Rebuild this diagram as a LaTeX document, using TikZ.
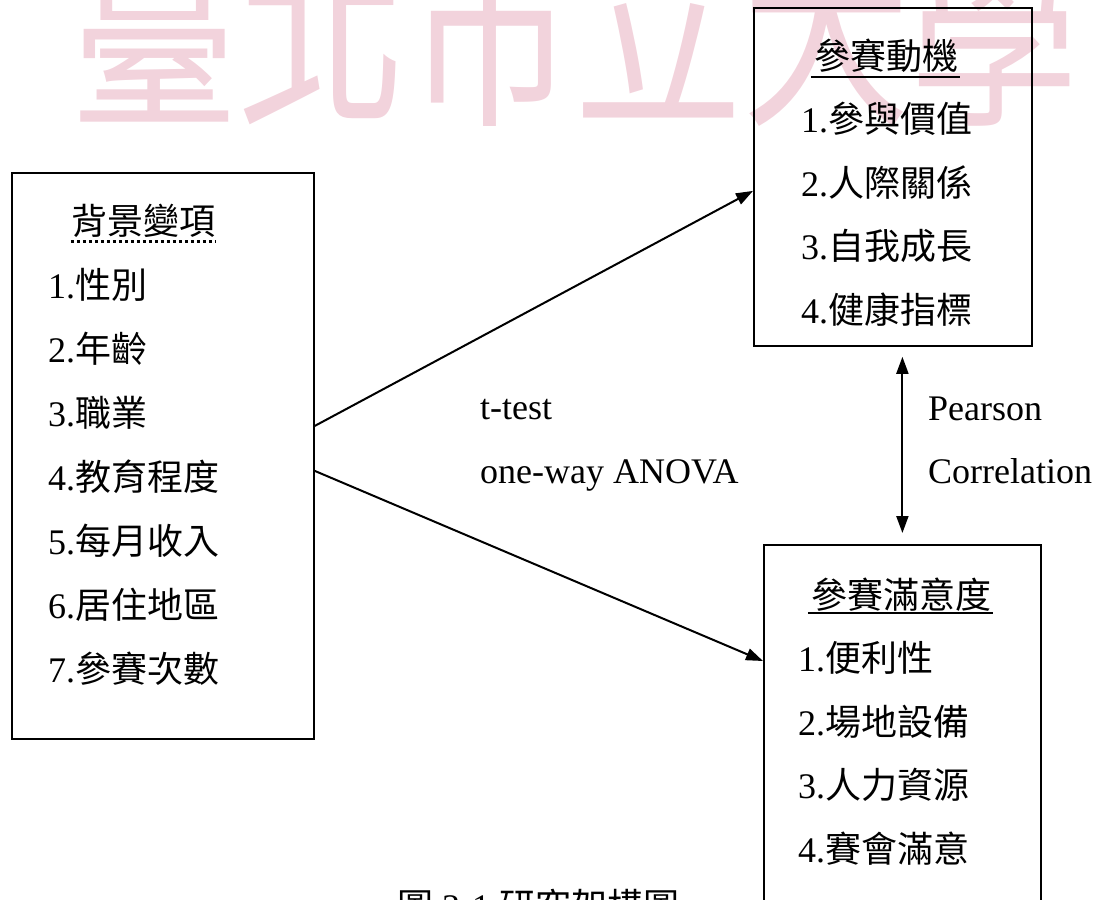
\documentclass[tikz,border=0pt]{standalone}
\usepackage{fontspec}
\setmainfont{Liberation Serif}
\newfontfamily\cjk{Noto Sans CJK TC}
\newcommand*{\zh}[1]{{\cjk #1}}
\usetikzlibrary{arrows.meta}
\definecolor{wmark}{RGB}{238,196,208}
\tikzstyle{box} = [draw, rectangle, line width=1.8pt, inner sep=0pt, anchor=north west]
\tikzstyle{item} = [font=\fontsize{36}{40}\selectfont, inner sep=0pt, anchor=base west]
\tikzstyle{title} = [item, anchor=base]
\tikzstyle{stat} = [item]
\tikzstyle{uline} = [line width=1.8pt]
\tikzstyle{dots} = [line width=3pt, dash pattern=on 3pt off 3pt]
\tikzstyle{path} = [-{Triangle[length=17pt, width=12pt]}, line width=2pt]
\tikzstyle{both} = [path, {Triangle[length=17pt, width=12pt]}-{Triangle[length=17pt, width=12pt]}]

\begin{document}
\begin{tikzpicture}[x=1pt, y=-1pt]
    \path [use as bounding box, clip] (0,0) rectangle (1107,899);

    % Watermark.
    \node (watermark) [anchor=base west, inner sep=0pt, text=wmark, opacity=0.75,
        xscale=0.82, transform shape,
        font=\cjk\fontsize{205}{205}\selectfont] at (70,110) {臺北市立大學};

    % Boxes.
    \node (bg) [box, minimum width=302pt, minimum height=566pt] at (11,172) {};
    \node (motive) [box, minimum width=278pt, minimum height=338pt] at (753,7) {};
    \node (satisfy) [box, minimum width=277pt, minimum height=420pt] at (763,544) {};

    \node (bg title) [title] at (143,234) {\zh{背景變項}};
    \node (motive title) [title] at (886,69) {\zh{參賽動機}};
    \node (satisfy title) [title] at (901,608) {\zh{參賽滿意度}};

    \draw [dots] ([yshift=-7pt]bg title.base west) -- ([yshift=-7pt]bg title.base east);
    \draw [uline] ([xshift=-3pt, yshift=-8pt]motive title.base west) -- ([xshift=2pt, yshift=-8pt]motive title.base east);
    \draw [uline] ([xshift=-3pt, yshift=-5pt]satisfy title.base west) -- ([xshift=2pt, yshift=-5pt]satisfy title.base east);

    \foreach \t [count=\i] in {性別, 年齡, 職業, 教育程度, 每月收入, 居住地區, 參賽次數} {%
        \node (bg item \i) [item] at (48, {234+64*\i}) {\i.\zh{\t}};
    }
    \foreach \t [count=\i] in {參與價值, 人際關係, 自我成長, 健康指標} {%
        \node (motive item \i) [item] at (801, {69+63.5*\i}) {\i.\zh{\t}};
    }
    \foreach \t [count=\i] in {便利性, 場地設備, 人力資源, 賽會滿意} {%
        \node (satisfy item \i) [item] at (798, {608+63.5*\i}) {\i.\zh{\t}};
    }

    \node (test 1) [stat] at (480,419) {t-test};
    \node (test 2) [stat] at (480,483) {one-way ANOVA};
    \node (corr 1) [stat] at (928,420) {Pearson};
    \node (corr 2) [stat] at (928,483) {Correlation};

    % Arrows.
    \draw [path] ([yshift=30pt]bg.east) -- ([yshift=-14pt]motive.west);
    \draw [path] ([yshift=-15pt]bg.east) -- ([yshift=-117pt]satisfy.north west);
    \draw [both, shorten <=10pt, shorten >=11pt] (motive.south -| satisfy.north) -- (satisfy.north);

    \node (caption) [item] at (397,919) {\zh{圖} 3-1 \zh{研究架構圖}};
\end{tikzpicture}
\end{document}
